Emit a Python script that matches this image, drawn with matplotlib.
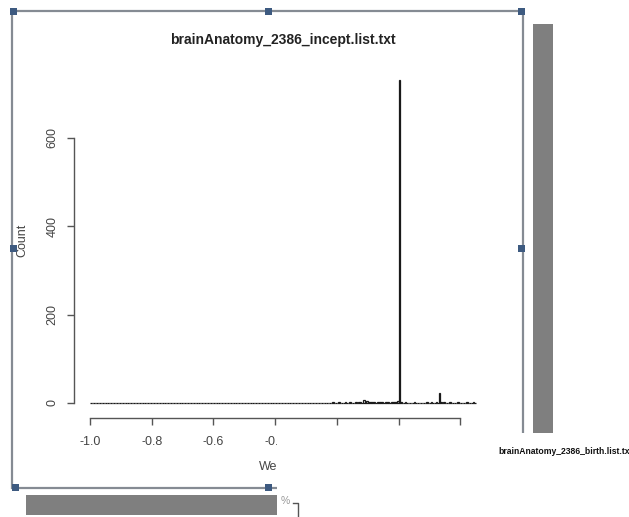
import numpy as np
import matplotlib
matplotlib.use("Agg")
import matplotlib.pyplot as plt
from matplotlib.patches import Rectangle
from matplotlib.lines import Line2D

plt.rcParams['font.family'] = ['Liberation Sans', 'DejaVu Sans']

# ---------------- data ----------------
title = "brainAnatomy_2386_incept.list.txt"
other_title = "brainAnatomy_2386_birth.list.txt"
x_label = "Weight"
y_label = "Count"
hist_start = -1.0
hist_end = 0.25
bin_width = 0.005
nonzero_start = -0.225
counts_before_peak = [1, 0, 2, 1, 0, 1, 2, 1, 1, 0, 2, 1, 1, 2, 1, 1, 0, 2, 1, 2,
                      2, 1, 7, 2, 4, 3, 3, 2, 2, 3, 1, 2, 3, 2, 2, 1, 3, 2, 2, 1,
                      2, 3, 2, 2, 4]
peak_count = [731]
counts_after_peak = [2, 1, 0, 2, 1, 0, 1, 0, 1, 2, 0, 0, 1, 0, 0, 1, 1, 2, 1, 0,
                     2, 1, 1, 2, 1, 23, 3, 1, 2, 1, 0, 1, 2, 1, 0, 1, 1, 2, 0, 1,
                     1, 0, 1, 2, 0, 1, 0, 2, 1]
x_ticks = [-1.0, -0.8, -0.6, -0.4, -0.2, 0.0, 0.2]
x_tick_labels = ["-1.0", "-0.8", "-0.6", "-0.4", "-0.2", "0.0", "0.2"]
y_ticks = [0, 200, 400, 600]
y_tick_labels = ["0", "200", "400", "600"]

# build the histogram bins
n_total = int(round((hist_end - hist_start) / bin_width))
n_zero = int(round((nonzero_start - hist_start) / bin_width))
nonzero = counts_before_peak + peak_count + counts_after_peak
counts = [0] * n_zero + nonzero
counts = counts[:n_total] + [0] * max(0, n_total - len(counts))
lefts = hist_start + bin_width * np.arange(n_total)

# ---------------- figure ----------------
W, H = 629, 517
fig = plt.figure(figsize=(W / 100, H / 100), dpi=100)
fig.patch.set_facecolor('white')


def fx(px):
    return px / W


def fy(py):
    return 1 - py / H


# pixel <-> data mapping (layout)
x0_px, x_scale = 398.5, 308.5     # px of x=0, px per unit
y0_px, y_scale = 403.0, 0.4417    # px of count=0, px per count
ax_l, ax_r, ax_t, ax_b = 70, 490, 60, 425
ax = fig.add_axes([fx(ax_l), fy(ax_b), (ax_r - ax_l) / W, (ax_b - ax_t) / H])
ax.set_xlim((ax_l - x0_px) / x_scale, (ax_r - x0_px) / x_scale)
ax.set_ylim((y0_px - ax_b) / y_scale, (y0_px - ax_t) / y_scale)
ax.patch.set_alpha(0)

ax.bar(lefts, counts, width=bin_width, align='edge', facecolor='none',
       edgecolor='#1a1a1a', linewidth=0.9)

axis_col = '#555555'
for s in ['top', 'right']:
    ax.spines[s].set_visible(False)
ax.spines['left'].set_position(('data', (74 - x0_px) / x_scale))
ax.spines['left'].set_bounds(0, 600)
ax.spines['bottom'].set_position(('data', (y0_px - 418) / y_scale))
ax.spines['bottom'].set_bounds(-1.0, 0.2)
for s in ['left', 'bottom']:
    ax.spines[s].set_color(axis_col)
    ax.spines[s].set_linewidth(1.0)
ax.set_xticks(x_ticks)
ax.set_xticklabels(x_tick_labels)
ax.set_yticks(y_ticks)
ax.set_yticklabels(y_tick_labels, rotation=90, va='center')
ax.tick_params(axis='both', direction='out', length=5, width=1.0,
               color=axis_col, labelcolor='#444444', labelsize=9, pad=6)
ax.tick_params(axis='x', pad=8)

# titles and axis labels
fig.text(fx(283), fy(40), title, ha='center', va='center',
         fontsize=10, fontweight='bold', color='#222222')
fig.text(fx(278), fy(467), x_label, ha='center', va='center',
         fontsize=9, color='#444444')
fig.text(fx(22), fy(240), y_label, ha='center', va='center',
         fontsize=9, color='#444444', rotation=90)

# ---------------- overlays (screenshot decorations) ----------------
frame_col = '#858b93'
fig.add_artist(Rectangle((fx(12), fy(488)), (523 - 12) / W, (488 - 11) / H,
                         transform=fig.transFigure, fill=False,
                         edgecolor=frame_col, linewidth=1.6, zorder=5))
handle_col = '#3d5a80'
for hx, hy in [(13, 11), (268, 11), (521, 11), (13, 248), (521, 248),
               (15, 487), (268, 487), (521, 487)]:
    fig.add_artist(Rectangle((fx(hx - 3.5), fy(hy + 3.5)), 7 / W, 7 / H,
                             transform=fig.transFigure, facecolor=handle_col,
                             edgecolor='none', zorder=6))

gray = '#7f7f7f'
fig.add_artist(Rectangle((fx(533), fy(433)), 20 / W, (433 - 24) / H,
                         transform=fig.transFigure, facecolor=gray,
                         edgecolor='none', zorder=7))
fig.add_artist(Rectangle((fx(277), fy(H)), (W - 277) / W, (H - 433) / H,
                         transform=fig.transFigure, facecolor='white',
                         edgecolor='none', zorder=8))
fig.add_artist(Rectangle((fx(26), fy(515)), (277 - 26) / W, 20 / H,
                         transform=fig.transFigure, facecolor=gray,
                         edgecolor='none', zorder=9))
fig.text(fx(498), fy(451), other_title, ha='left', va='center',
         fontsize=6.2, fontweight='bold', color='#111111', zorder=10)
fig.text(fx(285), fy(501), "%", ha='center', va='center',
         fontsize=7.5, color='#999999', zorder=10)
fig.add_artist(Line2D([fx(293), fx(298), fx(298)], [fy(503), fy(503), fy(517)],
                      transform=fig.transFigure, color='#555555',
                      linewidth=1.0, zorder=10))

fig.savefig("out.png", dpi=100)
